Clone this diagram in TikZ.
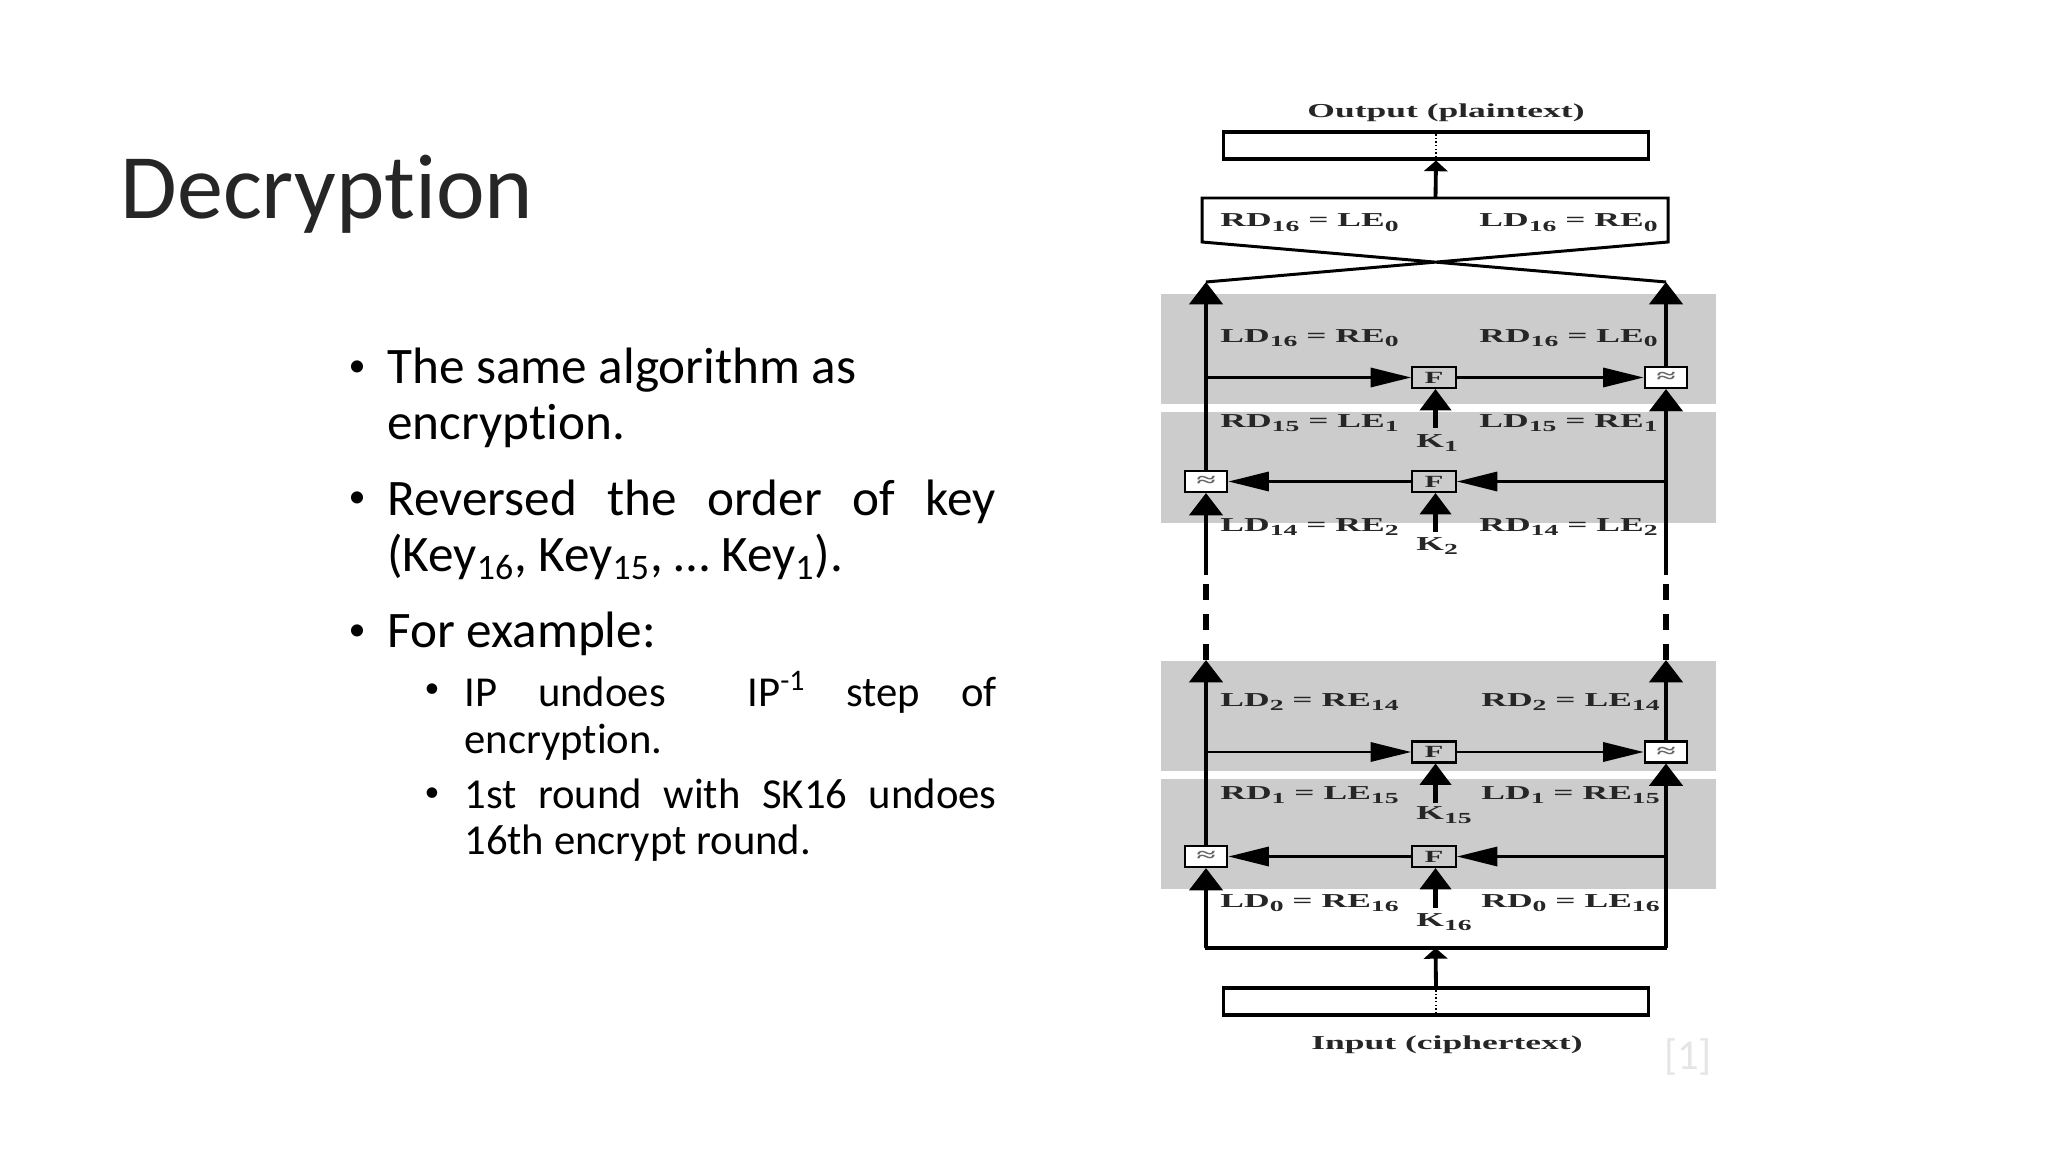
\documentclass[tikz,border=0pt]{standalone}
\usepackage{fontspec}
\setmainfont{Carlito}[Ligatures=NoCommon]
\newfontfamily\figfont{Liberation Serif}[FakeStretch=1.8]
\newcommand{\lowsub}[1]{\raisebox{-2.2pt}{\fontsize{7.2}{7.2}\selectfont #1}}
\usetikzlibrary{arrows.meta,positioning}

\begin{document}
\begin{tikzpicture}[
    x=0.46875pt, y=-0.46875pt,
    bandfill/.style={fill=black!20},
    bodytext/.style={anchor=north west, inner sep=0pt, text width=285pt, align=justify, font=\fontsize{24}{26}\selectfont},
    subtext/.style={anchor=north west, inner sep=0pt, text width=249.5pt, align=justify, font=\fontsize{20}{21.7}\selectfont},
    bulletmark/.style={inner sep=0pt},
    wordlabel/.style={inner sep=0pt, font=\figfont\bfseries\fontsize{9.25}{10}\selectfont, text=black!85},
    leftlabel/.style={wordlabel, anchor=base west},
    rightlabel/.style={wordlabel, anchor=base east},
    blockbox/.style={draw, line width=1.5pt, fill=white, minimum width=199pt, minimum height=12.6pt, inner sep=0pt},
    fbox/.style={draw, line width=1pt, minimum width=20.5pt, minimum height=9.8pt, inner sep=0pt, font=\figfont\bfseries\fontsize{8}{8}\selectfont, text=black!85},
    xorbox/.style={draw, line width=1pt, fill=white, minimum width=20pt, minimum height=9.8pt, inner sep=0pt, font=\figfont\bfseries\fontsize{9}{9}\selectfont, text=black!60},
    rail/.style={line width=2.2pt, -{Triangle[length=10.5pt,width=15.5pt]}},
    railplain/.style={line width=1.8pt},
    raildash/.style={line width=3.2pt, dash pattern=on 7.5pt off 6.56pt},
    branch/.style={line width=1.3pt, -{Triangle[length=19pt,width=9pt]}},
    keyarrow/.style={line width=2pt, -{Triangle[length=10pt,width=14.5pt]}},
    smallarrow/.style={line width=1.8pt, -{Triangle[length=5pt,width=11pt]}}
]
\useasboundingbox (0,0) rectangle (2048,1152);

% slide text
\node[anchor=base west, inner sep=0pt, text=black!85, font=\fontsize{43.2}{50}\selectfont] (title) at (120,219) {Decryption};
\node[bulletmark] (bulletA) at (357,369) {\fontsize{16}{18}\selectfont •};
\node[bulletmark] (bulletB) at (357,500) {\fontsize{16}{18}\selectfont •};
\node[bulletmark] (bulletC) at (357,633) {\fontsize{16}{18}\selectfont •};
\node[bulletmark] (bulletD) at (432,691) {\fontsize{14}{16}\selectfont •};
\node[bulletmark] (bulletE) at (432,795) {\fontsize{14}{16}\selectfont •};
\node[bodytext] (itemA) at (387,348) {The same algorithm as\\encryption.};
\node[bodytext] (itemB) at (387,480) {Reversed the order of key\linebreak (Key\textsubscript{16}, Key\textsubscript{15}, … Key\textsubscript{1}).};
\node[bodytext] (itemC) at (387,612) {For example:};
\node[subtext] (itemD) at (464,671) {IP undoes \ IP\textsuperscript{-1} step of\linebreak encryption.};
\node[subtext] (itemE) at (464,778) {1st round with SK16 undoes\linebreak 16th encrypt round.};
\node[anchor=center, inner sep=0pt, text=black!10, font=\fontsize{20}{22}\selectfont] (cite) at (1688,1057) {[1]};

% grey rounds
\fill[bandfill] (1161,294) rectangle (1716,404);
\fill[bandfill] (1161,412) rectangle (1716,523);
\fill[bandfill] (1161,661) rectangle (1716,771);
\fill[bandfill] (1161,779) rectangle (1716,889);

% boxes
\node[blockbox] (outbox) at (1436,145.5) {};
\node[blockbox] (inbox) at (1436,1001.5) {};
\node[fbox] (fa) at (1434,377.5) {F};
\node[fbox] (fb) at (1434,481.5) {F};
\node[fbox] (fc) at (1434,752) {F};
\node[fbox] (fd) at (1434,856.5) {F};
\node[xorbox] (xa) at (1666,377.5) {≈};
\node[xorbox] (xb) at (1206,481.5) {≈};
\node[xorbox] (xc) at (1666,752) {≈};
\node[xorbox] (xd) at (1206,856.5) {≈};

% labels
\node[anchor=base, wordlabel] (outlabel) at (1446,118) {Output (plaintext)};
\node[anchor=base, wordlabel] (inlabel) at (1447,1049) {Input (ciphertext)};
\node[leftlabel] (swapl) at (1220,227) {RD\lowsub{16} = LE\lowsub{0}};
\node[rightlabel] (swapr) at (1658,227) {LD\lowsub{16} = RE\lowsub{0}};
\node[leftlabel] (ld16) at (1220,342) {LD\lowsub{16} = RE\lowsub{0}};
\node[rightlabel] (rd16) at (1658,342) {RD\lowsub{16} = LE\lowsub{0}};
\node[leftlabel] (rd15) at (1220,427) {RD\lowsub{15} = LE\lowsub{1}};
\node[rightlabel] (ld15) at (1658,427) {LD\lowsub{15} = RE\lowsub{1}};
\node[leftlabel] (ld14) at (1220,531) {LD\lowsub{14} = RE\lowsub{2}};
\node[rightlabel] (rd14) at (1658,531) {RD\lowsub{14} = LE\lowsub{2}};
\node[leftlabel] (ld2) at (1220,706) {LD\lowsub{2} = RE\lowsub{14}};
\node[rightlabel] (rd2) at (1660,706) {RD\lowsub{2} = LE\lowsub{14}};
\node[leftlabel] (rd1) at (1220,799) {RD\lowsub{1} = LE\lowsub{15}};
\node[rightlabel] (ld1) at (1660,799) {LD\lowsub{1} = RE\lowsub{15}};
\node[leftlabel] (ld0) at (1220,907) {LD\lowsub{0} = RE\lowsub{16}};
\node[rightlabel] (rd0) at (1660,907) {RD\lowsub{0} = LE\lowsub{16}};
\node[leftlabel] (ka) at (1416,447) {K\lowsub{1}};
\node[leftlabel] (kb) at (1416,550) {K\lowsub{2}};
\node[leftlabel] (kc) at (1416,819) {K\lowsub{15}};
\node[leftlabel] (kd) at (1416,926) {K\lowsub{16}};

% ends of the rails
\coordinate (topl) at (1206,282);
\coordinate (topr) at (1666,282);
\coordinate (gapltop) at (1206,575);
\coordinate (gaprtop) at (1666,575);
\coordinate (gaplbot) at (1206,660);
\coordinate (gaprbot) at (1666,660);
\coordinate (footl) at (1205,948);
\coordinate (footr) at (1667,948);
\coordinate (footm) at (1435.5,948);
\coordinate (swapm) at (1435.5,198);
\coordinate (starta) at (1435.5,428);
\coordinate (startb) at (1435.5,532);
\coordinate (startc) at (1435.5,803);
\coordinate (startd) at (1435.5,908);

% swap
\draw[line width=1.4pt, line join=miter] (topl) -- (1668,242) -- (1668,198) -- (1202,198) -- (1202,242) -- (topr);
\draw[smallarrow] (swapm) -- (outbox.south);
\draw[smallarrow] (inbox.north) -- (footm);
\draw[line width=0.7pt, densely dotted] (outbox.north) -- (outbox.south);
\draw[line width=0.7pt, densely dotted] (inbox.north) -- (inbox.south);

% rails
\draw[railplain] (footl) -- (footr);
\draw[rail] (footl -| xd) -- (xd.south);
\draw[rail] (footr -| xc) -- (xc.south);
\draw[rail] (xd.north) -- (gaplbot);
\draw[rail] (xc.north) -- (gaprbot);
\draw[raildash] (gaplbot) -- (gapltop);
\draw[raildash] (gaprbot) -- (gaprtop);
\draw[rail] (gapltop) -- (xb.south);
\draw[rail] (gaprtop) -- (xa.south);
\draw[rail] (xb.north) -- (topl);
\draw[rail] (xa.north) -- (topr);

% branches
\draw[branch] (xb.north |- fa) -- (fa);
\draw[branch] (fa) -- (xa);
\draw[branch] (xa.south |- fb) -- (fb);
\draw[branch] (fb) -- (xb);
\draw[branch] (xd.north |- fc) -- (fc);
\draw[branch] (fc) -- (xc);
\draw[branch] (xc.south |- fd) -- (fd);
\draw[branch] (fd) -- (xd);

% keys
\draw[keyarrow] (starta) -- (starta |- fa.south);
\draw[keyarrow] (startb) -- (startb |- fb.south);
\draw[keyarrow] (startc) -- (startc |- fc.south);
\draw[keyarrow] (startd) -- (startd |- fd.south);
\end{tikzpicture}
\end{document}
